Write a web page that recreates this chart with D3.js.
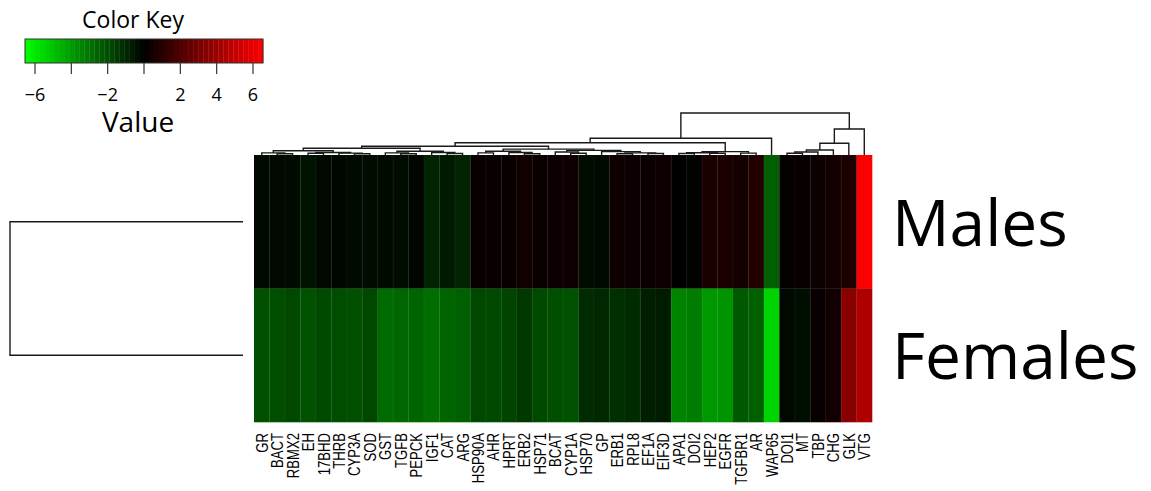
<!DOCTYPE html>
<html>
<head>
<meta charset="utf-8">
<script src="https://cdn.jsdelivr.net/npm/d3@7"></script>
<style>
  body { margin: 0; background: #fff; }
  svg { display: block; }
</style>
</head>
<body>
<svg id="chart" width="1151" height="491"></svg>
<script>
// gene columns in dendrogram order
const genes = ['GR', 'BACT', 'RBMX2', 'EH', '17BHD', 'THRB', 'CYP3A', 'SOD', 'GST', 'TGFB',
  'PEPCK', 'IGF1', 'CAT', 'ARG', 'HSP90A', 'AHR', 'HPRT', 'ERB2', 'HSP71', 'BCAT',
  'CYP1A', 'HSP70', 'GP', 'ERB1', 'RPL8', 'EF1A', 'EIF3D', 'APA1', 'DOI2', 'HEP2',
  'EGFR', 'TGFBR1', 'AR', 'WAP65', 'DOI1', 'MT', 'TBP', 'CHG', 'GLK', 'VTG'];

const groups = ['Males', 'Females'];

const males = [-0.25, -0.2, -0.25, -0.5, -0.2, -0.15, -0.25, -0.3, -0.25, -0.3,
  -0.15, -0.9, -0.65, -0.95, 0.2, 0.25, 0.2, 0.45, 0.25, 0.3,
  0.35, -0.3, -0.25, 0.35, 0.3, 0.25, 0.35, 0.02, -0.05, 0.7,
  0.7, 0.5, 0.9, -2.45, 0.1, 0.2, 0.3, 0.45, 0.75, 6.5];

const females = [-2.05, -2.0, -1.85, -2.1, -1.9, -1.95, -2.05, -1.85, -2.75, -2.65,
  -2.6, -2.8, -2.6, -2.45, -1.85, -1.9, -1.75, -1.45, -1.9, -2.0,
  -2.1, -1.1, -1.0, -1.2, -1.1, -0.8, -0.7, -3.4, -3.2, -3.9,
  -3.8, -2.25, -2.45, -5.45, -0.2, -0.35, 0.2, 0.45, 3.5, 4.5];

const keyTicks = [-6, -4, -2, 0, 2, 4, 6];
const keyLabelTicks = [-6, -2, 2, 4, 6];
const keyRange = [-6.55, 6.55];

// column dendrogram: h = merge height
const colTree = {h: 10, c: [
  {h: 4.0, c: [
    {h: 2.9, c: [
      {h: 2.1, c: [
        {h: 1.6, c: [
          {h: 1.0, c: [
            {h: 0.5, c: ['GR', {h: 0.3, c: ['BACT', 'RBMX2']}]},
            {h: 0.6, c: [{h: 0.4, c: ['EH', '17BHD']}, {h: 0.45, c: ['THRB', {h: 0.3, c: ['CYP3A', 'SOD']}]}]}
          ]},
          {h: 0.9, c: [
            {h: 0.5, c: ['GST', {h: 0.3, c: ['TGFB', 'PEPCK']}]},
            {h: 0.6, c: ['IGF1', {h: 0.35, c: ['CAT', 'ARG']}]}
          ]}
        ]},
        {h: 1.4, c: [
          {h: 0.9, c: [
            {h: 0.5, c: ['HSP90A', 'AHR']},
            {h: 0.6, c: ['HPRT', {h: 0.3, c: ['ERB2', 'HSP71']}]}
          ]},
          {h: 1.1, c: [
            {h: 0.7, c: ['BCAT', {h: 0.4, c: ['CYP1A', 'HSP70']}]},
            {h: 0.8, c: ['GP', {h: 0.5, c: [{h: 0.3, c: ['ERB1', 'RPL8']}, {h: 0.35, c: ['EF1A', 'EIF3D']}]}]}
          ]}
        ]}
      ]},
      {h: 0.8, c: [
        {h: 0.55, c: [{h: 0.35, c: ['APA1', 'DOI2']}, {h: 0.4, c: ['HEP2', 'EGFR']}]},
        {h: 0.45, c: ['TGFBR1', 'AR']}
      ]}
    ]},
    'WAP65'
  ]},
  {h: 6.2, c: [
    {h: 2.8, c: [
      {h: 1.2, c: [{h: 0.7, c: [{h: 0.4, c: ['DOI1', 'MT']}, 'TBP']}, 'CHG']},
      'GLK'
    ]},
    'VTG'
  ]}
]};

const svg = d3.select('#chart');
const font = "'Open Sans', sans-serif";

const hmLeft = 254, hmRight = 872, hmTop = 155, hmBottom = 422;

const x = d3.scaleBand().domain(genes).range([hmLeft, hmRight]);
const y = d3.scaleBand().domain(groups).range([hmTop, hmBottom]);
const color = d3.scaleLinear()
  .domain([keyRange[0], 0, keyRange[1]])
  .range(['#00ff00', '#000000', '#ff0000']);

const cells = [];
groups.forEach((g, gi) => {
  const vals = gi === 0 ? males : females;
  genes.forEach((gene, i) => cells.push({group: g, gene, value: vals[i]}));
});

svg.append('g').selectAll('rect')
  .data(cells)
  .join('rect')
  .attr('x', d => x(d.gene))
  .attr('y', d => y(d.group))
  .attr('width', x.bandwidth() + 0.3)
  .attr('height', y.bandwidth() + 0.3)
  .attr('fill', d => color(d.value));

// faint column separators
svg.append('g').selectAll('line')
  .data(genes.slice(1))
  .join('line')
  .attr('x1', d => x(d)).attr('x2', d => x(d))
  .attr('y1', hmTop).attr('y2', hmBottom)
  .attr('stroke', '#fff').attr('stroke-opacity', 0.05);

// gene labels (condensed)
svg.append('g').selectAll('text')
  .data(genes)
  .join('text')
  .attr('transform', d => `translate(${x(d) + x.bandwidth() / 2 + 6},433) rotate(-90) scale(0.82,1)`)
  .attr('text-anchor', 'end')
  .attr('font-family', "'Liberation Sans', Arial, sans-serif")
  .attr('font-size', 16)
  .attr('fill', '#000')
  .text(d => d);

// row labels
svg.append('g').selectAll('text')
  .data(groups)
  .join('text')
  .attr('x', 892)
  .attr('y', d => y(d) + y.bandwidth() / 2 + 24)
  .attr('font-family', font)
  .attr('font-size', 64)
  .attr('fill', '#000')
  .text(d => d);

// column dendrogram
const hScale = d3.scaleLinear().domain([0, 10]).range([hmTop, 113]);
const root = d3.hierarchy(colTree, d => typeof d === 'string' ? null : d.c);
root.eachAfter(n => {
  if (!n.children) {
    n.px = x(n.data) + x.bandwidth() / 2;
    n.py = hmTop;
  } else {
    n.px = (n.children[0].px + n.children[1].px) / 2;
    n.py = hScale(n.data.h);
  }
});
const dendPaths = root.descendants().filter(n => n.children).map(n => {
  const [a, b] = n.children;
  return `M${a.px},${a.py}V${n.py}H${b.px}V${b.py}`;
});
svg.append('g').selectAll('path')
  .data(dendPaths)
  .join('path')
  .attr('d', d => d)
  .attr('fill', 'none')
  .attr('stroke', '#1a1a1a')
  .attr('stroke-width', 1.4);

// row dendrogram
const rowY = groups.map(g => y(g) + y.bandwidth() / 2);
svg.append('path')
  .attr('d', `M243,${rowY[0]}H10V${rowY[1]}H243`)
  .attr('fill', 'none')
  .attr('stroke', '#1a1a1a')
  .attr('stroke-width', 1.4);

// color key
const kx = d3.scaleLinear().domain(keyRange).range([25, 263]);
const key = svg.append('g');
const bins = d3.range(48).map(i => keyRange[0] + (i + 0.5) * (keyRange[1] - keyRange[0]) / 48);
const binW = (kx(keyRange[1]) - kx(keyRange[0])) / 48;
key.selectAll('rect.bin')
  .data(bins)
  .join('rect')
  .attr('class', 'bin')
  .attr('x', d => kx(d) - binW / 2)
  .attr('y', 39)
  .attr('width', binW + 0.3)
  .attr('height', 24)
  .attr('fill', d => color(d));
key.append('rect')
  .attr('x', 25).attr('y', 39)
  .attr('width', 238).attr('height', 24)
  .attr('fill', 'none').attr('stroke', '#333').attr('stroke-width', 1);
key.selectAll('line.tick')
  .data(keyTicks)
  .join('line')
  .attr('class', 'tick')
  .attr('x1', d => kx(d)).attr('x2', d => kx(d))
  .attr('y1', 63).attr('y2', 74)
  .attr('stroke', '#333').attr('stroke-width', 1.2);
key.selectAll('text.lab')
  .data(keyLabelTicks)
  .join('text')
  .attr('class', 'lab')
  .attr('x', d => kx(d))
  .attr('y', 101)
  .attr('text-anchor', 'middle')
  .attr('font-family', font)
  .attr('font-size', 18)
  .text(d => d < 0 ? '\u2212' + Math.abs(d) : String(d));
key.append('text')
  .attr('x', 133).attr('y', 28)
  .attr('text-anchor', 'middle')
  .attr('font-family', font)
  .attr('font-size', 23)
  .text('Color Key');
key.append('text')
  .attr('x', 138).attr('y', 132)
  .attr('text-anchor', 'middle')
  .attr('font-family', font)
  .attr('font-size', 28)
  .text('Value');
</script>
</body>
</html>
